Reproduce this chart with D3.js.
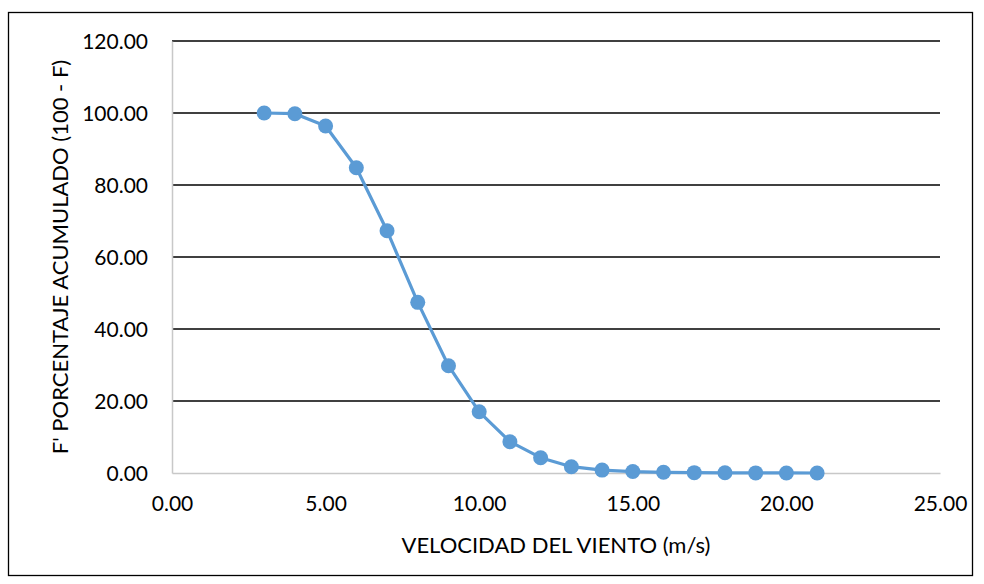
<!DOCTYPE html>
<html>
<head>
<meta charset="utf-8">
<script src="https://cdn.jsdelivr.net/npm/d3@7"></script>
<style>
  html, body { margin: 0; padding: 0; background: #fff; }
  text { font-family: Lato, "Open Sans", sans-serif; fill: #000; }
</style>
</head>
<body>
<svg id="chart" width="984" height="584"></svg>
<script>
// Wind speed (m/s) and cumulative percentage F' = 100 - F
const speeds = [3, 4, 5, 6, 7, 8, 9, 10, 11, 12, 13, 14, 15, 16, 17, 18, 19, 20, 21];
const cumulative = [100.0, 99.8, 96.4, 84.8, 67.3, 47.4, 29.8, 17.0, 8.7, 4.25, 1.75, 0.8, 0.4, 0.2, 0.1, 0.05, 0.02, 0.01, 0.0];
const xTicks = [0, 5, 10, 15, 20, 25];
const yTicks = [0, 20, 40, 60, 80, 100, 120];
const xTitle = "VELOCIDAD DEL VIENTO (m/s)";
const yTitle = "F' PORCENTAJE ACUMULADO (100 - F)";

const svg = d3.select("#chart");
const m = { left: 172, right: 940, top: 41, bottom: 473 };

// outer frame
svg.append("rect")
  .attr("x", 8.5).attr("y", 12.5)
  .attr("width", 964).attr("height", 563)
  .attr("fill", "#fff").attr("stroke", "#000").attr("stroke-width", 1.3);

const x = d3.scaleLinear().domain([0, 25]).range([m.left, m.right]);
const y = d3.scaleLinear().domain([0, 120]).range([m.bottom, m.top]);

// horizontal gridlines
svg.append("g")
  .selectAll("line")
  .data(yTicks.filter(t => t > 0))
  .join("line")
  .attr("x1", m.left).attr("x2", m.right)
  .attr("y1", d => y(d)).attr("y2", d => y(d))
  .attr("stroke", "#000").attr("stroke-width", 1.5);

// y axis
const yAxis = svg.append("g")
  .attr("transform", `translate(${m.left},0)`)
  .call(d3.axisLeft(y).tickValues(yTicks).tickFormat(d3.format(".2f")).tickSize(0).tickPadding(24));
yAxis.select(".domain").attr("stroke", "#c8c8c8").attr("stroke-width", 1.5);
yAxis.selectAll("text").style("font-size", "21px").attr("dy", "0.35em");

// x axis
const xAxis = svg.append("g")
  .attr("transform", `translate(0,${m.bottom})`)
  .call(d3.axisBottom(x).tickValues(xTicks).tickFormat(d3.format(".2f")).tickSize(0).tickPadding(23));
xAxis.select(".domain").attr("stroke", "#c8c8c8").attr("stroke-width", 1.5);
xAxis.selectAll("text").style("font-size", "21px");

// series line and markers
const pts = speeds.map((s, i) => [s, cumulative[i]]);
svg.append("path")
  .datum(pts)
  .attr("fill", "none")
  .attr("stroke", "#5B9BD5")
  .attr("stroke-width", 3.2)
  .attr("stroke-linejoin", "round")
  .attr("d", d3.line().x(d => x(d[0])).y(d => y(d[1])));

svg.append("g")
  .selectAll("circle")
  .data(pts)
  .join("circle")
  .attr("cx", d => x(d[0]))
  .attr("cy", d => y(d[1]))
  .attr("r", 7.5)
  .attr("fill", "#5B9BD5");

// axis titles
svg.append("text")
  .attr("x", (m.left + m.right) / 2)
  .attr("y", 553)
  .attr("text-anchor", "middle")
  .style("font-size", "22px")
  .text(xTitle);

svg.append("text")
  .attr("transform", `translate(68,${(m.top + m.bottom) / 2}) rotate(-90)`)
  .attr("text-anchor", "middle")
  .style("font-size", "22px")
  .text(yTitle);
</script>
</body>
</html>
